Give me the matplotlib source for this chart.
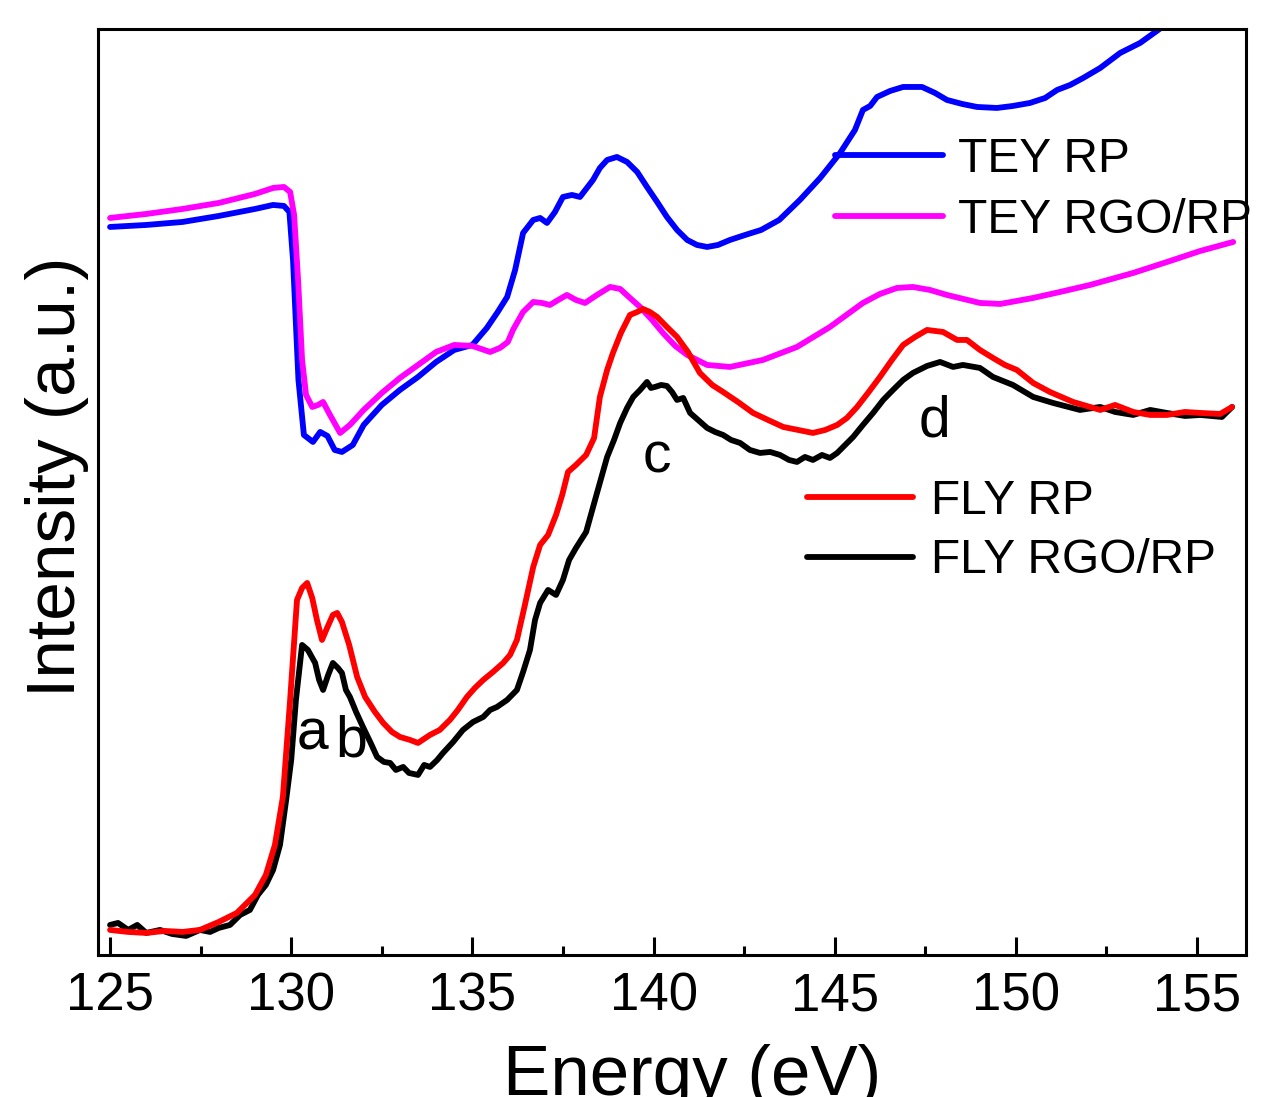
import matplotlib
matplotlib.use('Agg')
import matplotlib.pyplot as plt
from matplotlib.ticker import MultipleLocator

plt.rcParams['font.family'] = ['Liberation Sans', 'DejaVu Sans']

# TEY RP
tey_rp_e = [125.0, 126.0, 127.0, 128.0, 129.0, 129.5, 129.8, 129.95, 130.05, 130.2, 130.35, 130.6, 130.8, 131.0,
            131.2, 131.4, 131.7, 132.0, 132.5, 133.0, 133.5, 134.0, 134.5, 135.0, 135.4, 135.7, 135.96, 136.18,
            136.4, 136.68, 136.87, 137.06, 137.28, 137.5, 137.75, 137.97, 138.33, 138.52, 138.72, 138.99, 139.27,
            139.55, 139.82, 140.1, 140.37, 140.65, 140.93, 141.2, 141.48, 141.78, 142.11, 142.53, 142.97, 143.47,
            144.04, 144.6, 145.15, 145.56, 145.78, 145.98, 146.17, 146.53, 146.89, 147.41, 147.77, 148.1, 148.52,
            148.93, 149.48, 149.92, 150.39, 150.81, 151.14, 151.5, 151.86, 152.33, 152.88, 153.43, 153.93, 154.4]
tey_rp_i = [7.28, 7.30, 7.33, 7.39, 7.46, 7.50, 7.49, 7.43, 6.95, 5.75, 5.20, 5.13, 5.23, 5.19,
            5.05, 5.03, 5.10, 5.30, 5.50, 5.65, 5.78, 5.93, 6.05, 6.10, 6.27, 6.43, 6.58, 6.85,
            7.22, 7.35, 7.37, 7.32, 7.43, 7.58, 7.60, 7.58, 7.75, 7.87, 7.95, 7.98, 7.93,
            7.83, 7.68, 7.53, 7.38, 7.25, 7.15, 7.10, 7.08, 7.10, 7.15, 7.20, 7.25, 7.35,
            7.55, 7.77, 8.02, 8.25, 8.45, 8.49, 8.58, 8.64, 8.68, 8.68, 8.62, 8.55, 8.51,
            8.48, 8.47, 8.49, 8.52, 8.57, 8.65, 8.70, 8.77, 8.87, 9.02, 9.12, 9.25, 9.38]

# TEY RGO/RP
tey_rgo_e = [125.0, 126.0, 127.0, 128.0, 129.0, 129.5, 129.8, 129.97, 130.08, 130.19, 130.3, 130.41, 130.58,
             130.74, 130.88, 131.07, 131.35, 131.62, 132.0, 132.5, 133.0, 133.5, 134.0, 134.5, 135.0, 135.49,
             135.76, 135.98, 136.12, 136.4, 136.68, 136.92, 137.14, 137.37, 137.61, 137.86, 138.11, 138.44,
             138.8, 139.08, 139.35, 139.63, 139.96, 140.26, 140.6, 140.93, 141.48, 142.11, 143.02, 143.96,
             144.87, 145.78, 146.25, 146.72, 147.16, 147.63, 148.1, 149.01, 149.57, 150.48, 151.22, 152.05,
             153.24, 154.26, 155.09, 156.0]
tey_rgo_i = [7.37, 7.41, 7.46, 7.52, 7.61, 7.67, 7.68, 7.63, 7.40, 6.75, 5.95, 5.60, 5.48,
             5.50, 5.53, 5.40, 5.22, 5.30, 5.45, 5.62, 5.77, 5.90, 6.03, 6.10, 6.09, 6.03,
             6.07, 6.13, 6.25, 6.43, 6.53, 6.52, 6.50, 6.55, 6.60, 6.55, 6.52, 6.60,
             6.68, 6.66, 6.57, 6.48, 6.35, 6.22, 6.09, 6.00, 5.90, 5.88, 5.95, 6.08,
             6.28, 6.52, 6.61, 6.67, 6.68, 6.65, 6.60, 6.52, 6.51, 6.57, 6.63, 6.70,
             6.82, 6.94, 7.04, 7.13]

# FLY RP
fly_rp_e = [125.0, 125.5, 126.0, 126.5, 127.0, 127.48, 128.0, 128.5, 129.0, 129.3, 129.55, 129.77, 129.97,
            130.16, 130.3, 130.44, 130.58, 130.71, 130.85, 130.99, 131.15, 131.27, 131.4, 131.6, 131.82,
            132.04, 132.31, 132.54, 132.78, 133.0, 133.28, 133.5, 133.83, 134.1, 134.38, 134.6, 134.85,
            135.07, 135.3, 135.57, 135.85, 136.04, 136.23, 136.45, 136.68, 136.87, 137.09, 137.31, 137.48,
            137.64, 137.86, 138.14, 138.36, 138.52, 138.72, 138.88, 139.1, 139.35, 139.55, 139.71, 139.9,
            140.1, 140.37, 140.65, 140.95, 141.28, 141.62, 141.92, 142.33, 142.75, 143.16, 143.58, 143.99,
            144.4, 144.74, 145.07, 145.34, 145.62, 145.92, 146.25, 146.58, 146.89, 147.22, 147.55, 147.99,
            148.38, 148.65, 149.01, 149.37, 149.7, 150.03, 150.48, 150.94, 151.58, 152.33, 152.74, 153.24,
            153.71, 154.17, 154.67, 155.09, 155.64, 155.97]
fly_rp_i = [0.25, 0.23, 0.22, 0.24, 0.23, 0.25, 0.33, 0.42, 0.60, 0.80, 1.10, 1.58, 2.55,
            3.55, 3.67, 3.72, 3.57, 3.35, 3.15, 3.27, 3.40, 3.42, 3.33, 3.10, 2.78,
            2.58, 2.43, 2.32, 2.23, 2.18, 2.15, 2.12, 2.20, 2.25, 2.35, 2.45, 2.58,
            2.67, 2.75, 2.83, 2.92, 3.00, 3.15, 3.50, 3.88, 4.10, 4.20, 4.40, 4.60,
            4.83, 4.90, 5.00, 5.17, 5.58, 5.85, 6.02, 6.22, 6.40, 6.43, 6.46, 6.43,
            6.38, 6.28, 6.18, 6.03, 5.82, 5.70, 5.63, 5.53, 5.42, 5.35, 5.28, 5.25,
            5.22, 5.25, 5.30, 5.37, 5.48, 5.62, 5.78, 5.95, 6.10, 6.18, 6.25, 6.23,
            6.15, 6.15, 6.05, 5.97, 5.90, 5.85, 5.72, 5.63, 5.53, 5.45, 5.50, 5.43,
            5.40, 5.40, 5.43, 5.42, 5.41, 5.48]

# FLY RGO/RP
fly_rgo_e = [125.0, 125.22, 125.5, 125.75, 126.0, 126.38, 126.71, 127.1, 127.48, 127.76, 128.0, 128.31, 128.59,
             128.86, 129.08, 129.3, 129.5, 129.69, 129.86, 130.0, 130.13, 130.3, 130.46, 130.66, 130.77, 130.88,
             131.02, 131.15, 131.29, 131.4, 131.51, 131.62, 131.79, 131.98, 132.18, 132.37, 132.56, 132.73,
             132.89, 133.09, 133.25, 133.5, 133.67, 133.83, 134.03, 134.19, 134.47, 134.74, 135.02, 135.3,
             135.49, 135.68, 135.96, 136.23, 136.4, 136.59, 136.73, 136.87, 137.09, 137.31, 137.5, 137.67,
             137.86, 138.14, 138.44, 138.72, 138.91, 139.08, 139.27, 139.44, 139.63, 139.82, 139.93, 140.04,
             140.21, 140.37, 140.51, 140.65, 140.82, 141.01, 141.23, 141.48, 141.7, 141.92, 142.14, 142.39,
             142.66, 142.94, 143.22, 143.49, 143.74, 143.96, 144.18, 144.4, 144.65, 144.87, 145.07, 145.29,
             145.51, 145.78, 146.06, 146.34, 146.61, 146.89, 147.16, 147.55, 147.91, 148.27, 148.54, 149.01,
             149.37, 149.92, 150.48, 151.03, 151.77, 152.33, 152.74, 153.24, 153.71, 154.17, 154.67, 155.09,
             155.69, 155.97]
fly_rgo_i = [0.30, 0.32, 0.25, 0.30, 0.22, 0.25, 0.21, 0.19, 0.25, 0.23, 0.27, 0.30, 0.40,
             0.45, 0.60, 0.70, 0.85, 1.10, 1.55, 1.95, 2.55, 3.10, 3.05, 2.92, 2.75, 2.65,
             2.80, 2.92, 2.87, 2.82, 2.65, 2.58, 2.43, 2.28, 2.13, 1.98, 1.93, 1.92,
             1.85, 1.88, 1.82, 1.80, 1.90, 1.88, 1.95, 2.02, 2.13, 2.25, 2.33, 2.38,
             2.45, 2.48, 2.55, 2.65, 2.83, 3.05, 3.35, 3.52, 3.65, 3.60, 3.75, 3.95,
             4.07, 4.23, 4.62, 4.98, 5.15, 5.32, 5.47, 5.58, 5.65, 5.73, 5.67, 5.68,
             5.70, 5.69, 5.63, 5.55, 5.57, 5.42, 5.35, 5.27, 5.23, 5.20, 5.15, 5.12,
             5.05, 5.02, 5.03, 5.00, 4.95, 4.93, 4.98, 4.95, 5.00, 4.97, 5.02, 5.10,
             5.18, 5.30, 5.42, 5.55, 5.65, 5.75, 5.82, 5.89, 5.93, 5.88, 5.90, 5.87,
             5.78, 5.70, 5.58, 5.52, 5.45, 5.48, 5.43, 5.40, 5.45, 5.42, 5.39, 5.40,
             5.38, 5.48]

# peak labels
peak_names = ['a', 'b', 'c', 'd']
peak_e = [130.58, 131.65, 140.1, 147.75]
peak_i = [2.05, 1.98, 4.82, 5.18]

fig = plt.figure(figsize=(12.72, 10.97), dpi=100)
ax = fig.add_axes([0.0767, 0.1295, 0.9029, 0.8441])

lw = 4.2
style = dict(lw=lw, solid_joinstyle='round', solid_capstyle='round')
l1, = ax.plot(tey_rp_e, tey_rp_i, color='#0000ff', label='TEY RP', **style)
l2, = ax.plot(tey_rgo_e, tey_rgo_i, color='#ff00ff', label='TEY RGO/RP', **style)
l4, = ax.plot(fly_rgo_e, fly_rgo_i, color='black', label='FLY RGO/RP', **style)
l3, = ax.plot(fly_rp_e, fly_rp_i, color='#ff0000', label='FLY RP', **style)

for name, e, i in zip(peak_names, peak_e, peak_i):
    ax.text(e, i, name, fontsize=41, ha='center', va='baseline')

ax.set_xlim(124.655, 156.355)
ax.set_ylim(0, 9.26)
ax.set_yticks([])
ax.xaxis.set_major_locator(MultipleLocator(5))
ax.xaxis.set_minor_locator(MultipleLocator(2.5))
ax.tick_params(axis='x', which='major', direction='in', length=13, width=2.2, pad=12, labelsize=38)
ax.tick_params(axis='x', which='minor', direction='in', length=6.5, width=2.2)
for sp in ax.spines.values():
    sp.set_linewidth(2.2)

ax.set_xlabel('Energy (eV)', fontsize=51)
ax.xaxis.label.set_va('baseline')
ax.xaxis.set_label_coords(0.5176, -0.151)
ax.set_ylabel('Intensity (a.u.)', fontsize=50)
ax.yaxis.label.set_va('baseline')
ax.yaxis.set_label_coords(-0.0196, 0.516)

leg1 = ax.legend(handles=[l1, l2], loc='upper left', bbox_to_anchor=(835 / 1272, 1 - 137 / 1097),
                 bbox_transform=fig.transFigure, frameon=False, fontsize=34.5, borderpad=0,
                 borderaxespad=0, handlelength=2.25, handletextpad=0.32, labelspacing=0.33)
ax.add_artist(leg1)
ax.legend(handles=[l3, l4], loc='upper left', bbox_to_anchor=(807 / 1272, 1 - 479 / 1097),
          bbox_transform=fig.transFigure, frameon=False, fontsize=34.5, borderpad=0,
          borderaxespad=0, handlelength=2.22, handletextpad=0.36, labelspacing=0.3)

fig.savefig('out.png', dpi=100)
